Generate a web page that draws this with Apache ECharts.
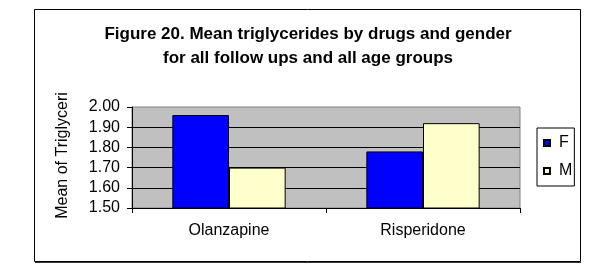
<!DOCTYPE html>
<html>
<head>
<meta charset="utf-8">
<script src="https://cdn.jsdelivr.net/npm/echarts@6/dist/echarts.min.js"></script>
<style>
html,body{margin:0;padding:0;background:#fff;}
#c{width:600px;height:272px;}
</style>
</head>
<body>
<div id="c"></div>
<script>
const categories = ['Olanzapine', 'Risperidone'];
const seriesNames = ['F', 'M'];
const valuesF = [1.96, 1.78];
const valuesM = [1.70, 1.92];
const yTicks = [1.50, 1.60, 1.70, 1.80, 1.90, 2.00];

const FONT = "'Liberation Sans', Arial, sans-serif";
const chart = echarts.init(document.getElementById('c'), null, {renderer: 'canvas'});
chart.setOption({
  animation: false,
  backgroundColor: '#fff',
  textStyle: {fontFamily: FONT},
  title: {
    text: 'Figure 20. Mean triglycerides by drugs and gender\nfor all follow ups and all age groups',
    left: 303,
    top: 17,
    textAlign: 'center',
    textStyle: {fontFamily: FONT, fontSize: 17, fontWeight: 'bold', color: '#000', lineHeight: 24}
  },
  graphic: [
    {type: 'rect', shape: {x: 34.5, y: 9.5, width: 546, height: 252}, style: {fill: 'none', stroke: '#000', lineWidth: 1}, silent: true, z: -1},
    {type: 'line', shape: {x1: 35, y1: 262.5, x2: 581, y2: 262.5}, style: {stroke: '#333', lineWidth: 1}, silent: true}
  ],
  legend: {
    orient: 'vertical',
    left: 537,
    top: 128,
    data: seriesNames,
    icon: 'rect',
    itemWidth: 6,
    itemHeight: 6,
    itemGap: 12,
    padding: [7, 2, 7, 6],
    borderColor: '#000',
    borderWidth: 1,
    backgroundColor: '#fff',
    textStyle: {fontFamily: FONT, fontSize: 16, color: '#000', lineHeight: 16, padding: [0, 0, 0, 4]}
  },
  grid: {
    left: 132, right: 80, top: 107, bottom: 64,
    show: true, backgroundColor: '#c0c0c0', borderColor: '#808080', borderWidth: 1
  },
  xAxis: {
    type: 'category',
    data: categories,
    axisLine: {lineStyle: {color: '#000', width: 1}},
    axisTick: {show: true, length: 5, lineStyle: {color: '#000'}},
    axisLabel: {color: '#000', fontSize: 16, fontFamily: FONT, margin: 15},
    splitLine: {show: false}
  },
  yAxis: {
    type: 'value',
    min: yTicks[0],
    max: yTicks[yTicks.length - 1],
    interval: 0.1,
    name: 'Mean of Triglycerides',
    nameLocation: 'middle',
    nameRotate: 90,
    nameGap: 61,
    nameTruncate: {maxWidth: 138, ellipsis: ''},
    nameTextStyle: {fontFamily: FONT, fontSize: 16, color: '#000', width: 138, overflow: 'truncate', ellipsis: '', padding: [0, 0, 0, 4]},
    axisLine: {show: true, lineStyle: {color: '#000', width: 1}},
    axisTick: {show: true, length: 5, lineStyle: {color: '#000'}},
    axisLabel: {color: '#000', fontSize: 16, fontFamily: FONT, margin: 12, formatter: v => v.toFixed(2)},
    splitLine: {show: true, showMinLine: false, showMaxLine: false, lineStyle: {color: '#000', width: 1}}
  },
  series: [
    {name: seriesNames[0], type: 'bar', data: valuesF, barGap: '0%', barCategoryGap: '41.6%',
     itemStyle: {color: '#0000ff', borderColor: '#000', borderWidth: 1}},
    {name: seriesNames[1], type: 'bar', data: valuesM, barGap: '0%', barCategoryGap: '41.6%',
     itemStyle: {color: '#ffffcc', borderColor: '#000', borderWidth: 1}}
  ]
});
</script>
</body>
</html>
